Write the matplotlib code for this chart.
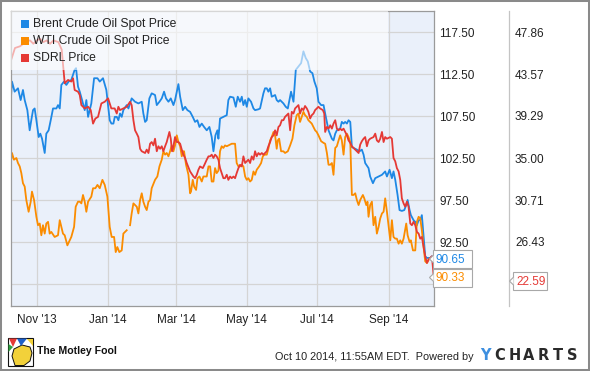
import numpy as np
import pandas as pd
import matplotlib
matplotlib.use("Agg")
import matplotlib.pyplot as plt
import matplotlib.dates as mdates
from matplotlib.patches import Rectangle, Polygon
from matplotlib.transforms import IdentityTransform
from matplotlib.ticker import FormatStrFormatter

plt.rcParams["font.family"] = ["Liberation Sans", "DejaVu Sans"]

# ---- data (days counted from 2013-10-09) ----
START = pd.Timestamp("2013-10-09")

brent_days = [0, 1.1, 3.4, 6.3, 8.6, 10.6, 12.1, 14.4, 16.4, 17.8,
              19.3, 20.7, 22.2, 24.2, 25.6, 27.1, 29.4, 30.8, 32.8, 34.6,
              36.6, 39.5, 40.9, 42.4, 43.8, 46.1, 48.1, 50.1, 52.4, 55.3,
              56.5, 58.2, 59.7, 61.7, 64.0, 65.4, 66.9, 68.3, 69.7, 72.1,
              75.0, 77.0, 79.8, 82.7, 85.6, 87.1, 88.8, 90.0, 91.7, 93.1,
              94.5, 96.0, 97.4, 100.3, 101.8, 104.6, 107.5, 110.4, 113.3, 114.7,
              116.2, 117.6, 119.9, 121.9, 124.8, 126.3, 128.6, 130.6, 132.6, 134.3,
              136.4, 138.4, 140.7, 142.1, 143.6, 145.0, 146.5, 148.8, 150.8, 152.8,
              155.1, 157.4, 159.4, 161.4, 163.2, 165.2, 167.2, 169.5, 171.8, 173.8,
              175.3, 177.0, 178.7, 179.6, 181.0, 183.9, 186.8, 188.2, 189.7, 192.6,
              194.6, 196.3, 198.3, 199.8, 201.2, 202.7, 204.1, 205.5, 207.8, 209.9,
              211.3, 214.2, 215.6, 218.5, 219.9, 221.4, 222.8, 224.3, 225.7, 228.6,
              230.0, 231.5, 232.9, 234.4, 235.8, 237.8, 239.6, 240.7, 242.4, 244.5,
              246.5, 248.8, 251.1, 253.1, 255.1, 256.9, 258.9, 260.9, 262.6, 264.6,
              266.1, 268.4, 270.5, 271.9, 274.8, 277.7, 279.1, 280.6, 282.0, 284.9,
              286.3, 287.8, 289.2, 290.7, 292.1, 293.6, 295.0, 296.4, 299.3, 301.6,
              303.6, 305.1, 306.5, 309.4, 310.8, 313.2, 315.2, 318.1, 321.0, 323.8,
              325.3, 327.6, 329.6, 331.0, 332.5, 334.5, 336.2, 338.2, 340.3, 342.0,
              343.2, 344.9, 346.0, 348.3, 349.8, 351.2, 352.7, 354.1, 355.5, 357.0,
              358.4, 359.9, 362.8, 364.2, 365.0]
brent = [109.2, 111.6, 110.4, 110.8, 109.4, 110.6, 109.4, 108.2, 105.8, 107.0,
         108.2, 108.4, 107.0, 105.0, 105.4, 104.8, 103.1, 105.4, 105.8, 107.0,
         108.4, 108.4, 108.8, 108.4, 111.2, 111.6, 111.2, 111.6, 111.8, 113.0,
         113.2, 111.0, 110.4, 109.4, 108.2, 109.4, 107.4, 108.2, 109.0, 112.0,
         112.0, 111.6, 112.0, 110.6, 107.0, 106.6, 106.6, 107.4, 107.4, 107.0,
         107.8, 107.4, 108.2, 108.8, 108.4, 109.6, 109.2, 109.0, 109.2, 107.8,
         106.8, 107.0, 109.6, 110.2, 110.0, 108.8, 109.2, 109.6, 110.4, 109.6,
         109.2, 109.6, 108.8, 109.4, 110.4, 111.3, 109.8, 108.2, 108.6, 108.2,
         108.0, 107.4, 106.8, 107.0, 106.2, 106.6, 106.2, 105.8, 106.2, 105.0,
         103.3, 105.2, 105.8, 104.8, 107.2, 107.4, 107.6, 109.4, 109.8, 109.7,
         108.6, 109.8, 109.2, 109.8, 108.8, 109.4, 108.6, 109.6, 109.2, 108.4,
         108.2, 108.3, 108.4, 110.2, 110.8, 110.8, 110.4, 110.8, 109.8, 110.0,
         109.4, 109.2, 109.4, 109.2, 109.0, 108.6, 108.4, 109.2, 110.4, 109.2,
         113.0, 113.4, 113.8, 115.2, 114.4, 114.0, 112.8, 112.6, 111.6, 110.8,
         109.2, 108.8, 108.8, 107.8, 105.8, 104.8, 104.6, 105.4, 105.8, 106.0,
         106.8, 106.6, 106.8, 106.6, 107.0, 106.8, 103.8, 103.7, 103.5, 103.3,
         103.5, 102.9, 101.9, 101.3, 100.3, 99.5, 100.1, 100.3, 100.5, 100.9,
         100.3, 101.1, 100.1, 100.9, 99.9, 98.1, 96.3, 96.2, 96.3, 96.9,
         97.5, 96.3, 95.7, 95.1, 94.9, 94.5, 95.1, 95.1, 95.7, 93.1,
         90.8, 90.6, 90.6, 90.8, 90.65]

wti_days = [0, 1.1, 2.8, 4.9, 6.3, 7.8, 9.2, 10.6, 12.1, 13.5,
            15.5, 17.3, 18.4, 20.2, 22.2, 23.6, 25.1, 26.5, 27.9, 29.4,
            30.8, 32.3, 33.7, 35.1, 38.0, 40.9, 42.4, 43.8, 45.2, 46.7,
            49.0, 50.4, 52.4, 54.8, 56.2, 58.2, 59.7, 61.1, 62.5, 64.0,
            65.4, 66.9, 69.7, 71.2, 73.2, 75.0, 77.0, 79.3, 81.3, 83.6,
            85.6, 87.3, 89.4, 90.8, 92.2, 93.9, 96.0, 97.4, 98.9, 100.3,
            101.8, 103.2, 104.6, 106.1, 109.0, 110.4, 111.9, 113.3, 114.7, 116.2,
            117.6, 119.1, 120.5, 121.9, 124.8, 126.8, 128.6, 130.6, 132.0, 133.5,
            134.9, 136.4, 137.8, 139.2, 140.7, 142.1, 143.6, 145.0, 146.5, 147.9,
            148.8, 149.9, 151.6, 153.7, 155.1, 155.9, 157.4, 158.6, 160.3, 161.5,
            163.2, 165.2, 166.6, 169.5, 171.0, 172.4, 173.8, 175.3, 176.7, 178.1,
            179.6, 181.0, 182.4, 183.9, 185.3, 186.8, 188.2, 191.1, 194.0, 195.4,
            196.9, 198.3, 199.8, 201.2, 202.7, 204.1, 205.5, 207.0, 208.4, 209.9,
            211.3, 212.7, 214.8, 216.5, 218.0, 219.4, 221.4, 222.8, 224.3, 225.7,
            227.2, 228.6, 230.0, 230.9, 232.1, 233.8, 235.8, 237.2, 239.6, 241.6,
            243.6, 245.3, 247.3, 248.8, 250.2, 251.7, 253.1, 254.5, 256.0, 257.4,
            260.3, 261.8, 263.2, 264.6, 266.1, 268.4, 270.5, 271.9, 273.4, 274.8,
            276.3, 277.7, 279.1, 280.6, 282.0, 283.5, 284.9, 286.3, 287.8, 289.2,
            290.7, 292.1, 293.6, 295.0, 296.4, 297.9, 299.3, 300.8, 302.2, 304.5,
            305.7, 307.4, 308.5, 309.4, 310.8, 312.3, 313.7, 315.2, 316.6, 318.1,
            319.5, 321.0, 322.4, 323.8, 325.3, 326.7, 328.2, 329.6, 331.0, 332.5,
            333.9, 335.4, 336.8, 338.2, 339.7, 342.0, 343.2, 344.9, 346.0, 347.8,
            349.8, 351.2, 352.7, 354.1, 355.5, 357.0, 358.4, 359.9, 361.3, 362.8,
            364.2, 365.0]
wti = [101.9, 103.1, 102.3, 102.5, 101.9, 101.5, 100.7, 99.5, 99.1, 97.5,
       96.1, 97.3, 98.5, 97.5, 95.5, 94.5, 94.7, 93.3, 94.5, 93.5,
       94.7, 94.9, 93.5, 93.7, 93.1, 93.3, 95.1, 94.3, 93.5, 93.3,
       92.1, 92.5, 93.1, 94.3, 96.7, 97.3, 97.3, 97.1, 98.1, 97.3,
       96.1, 97.3, 97.9, 98.9, 98.9, 99.3, 98.9, 99.9, 99.3, 97.9,
       94.3, 93.1, 93.1, 91.3, 91.9, 91.3, 91.5, 93.5, 93.7, 93.9,
       np.nan, 94.5, 95.9, 97.1, 96.7, 95.9, 97.5, 98.3, 97.3, 96.7,
       96.3, 97.3, 97.5, 98.9, 99.9, 100.3, 101.5, 102.3, 103.3, 102.9,
       103.1, 102.7, 103.3, 104.0, 103.3, 104.0, 105.2, 104.4, 103.9, 102.7,
       103.3, 103.3, 101.7, 100.5, 98.3, 98.5, 99.9, 99.1, 98.7, 100.1,
       100.3, 99.7, 100.3, 100.3, 101.5, 101.5, 99.7, 99.7, 101.3, 100.7,
       101.0, 103.3, 103.9, 103.7, 104.0, 103.9, 104.0, 104.2, 104.2, 101.9,
       101.5, 101.5, 101.7, 101.5, 100.3, 99.9, 100.1, 99.7, 99.9, 100.9,
       100.5, 101.1, 101.5, 101.9, 102.7, 102.9, 102.9, 103.6, 104.6, 105.0,
       105.6, 105.2, 103.6, 104.6, 104.8, 103.3, 103.3, 103.1, 103.3, 104.0,
       104.8, 106.4, 107.6, 107.8, 106.8, 107.4, 108.0, 107.6, 107.4, 107.0,
       106.6, 106.2, 105.8, 105.6, 105.2, 104.5, 104.3, 104.2, 103.1, 101.7,
       101.7, 101.9, 100.5, 103.7, 103.9, 104.6, 105.2, 104.6, 102.9, 105.0,
       105.4, 105.0, 104.4, 98.1, 98.1, 98.3, 97.5, 96.9, 97.5, 98.1,
       97.7, 96.9, 97.3, 95.5, 96.9, 97.3, 94.5, 95.5, 93.5, 94.3,
       95.3, 95.9, 96.1, 97.7, 96.1, 94.5, 92.7, 95.1, 93.1, 92.9,
       92.9, 92.3, 92.7, 92.3, 92.9, 94.7, 93.3, 92.5, 92.7, 91.5,
       91.5, 94.9, 95.5, 95.3, 93.9, 91.9, 90.2, 90.0, 90.4, 90.6,
       90.4, 90.33]

sdrl_days = [0, 3.7, 8.0, 13.8, 16.7, 19.6, 22.5, 25.3, 28.2, 31.1,
             34.0, 36.9, 41.2, 44.1, 45.5, 46.7, 49.6, 52.4, 53.9, 55.3,
             58.2, 59.7, 61.1, 64.0, 66.9, 69.2, 71.2, 73.2, 75.5, 78.4,
             81.3, 84.2, 87.0, 89.9, 91.7, 93.1, 94.5, 97.4, 100.3, 103.2,
             104.6, 106.1, 107.5, 109.0, 110.4, 111.9, 113.3, 116.2, 117.6, 119.1,
             120.5, 121.9, 123.4, 124.8, 126.3, 127.7, 129.2, 130.6, 132.0, 133.5,
             134.9, 137.2, 138.4, 139.5, 140.7, 142.1, 143.6, 145.0, 146.5, 147.9,
             149.3, 150.8, 152.2, 155.1, 158.0, 159.4, 160.9, 162.3, 163.7, 166.1,
             167.5, 169.5, 171.0, 172.4, 173.8, 175.3, 176.7, 178.1, 179.6, 181.0,
             182.4, 183.9, 185.3, 186.8, 188.2, 189.7, 191.1, 192.6, 194.0, 195.4,
             196.9, 198.3, 199.8, 201.2, 202.7, 204.1, 205.5, 207.0, 208.4, 209.9,
             211.3, 212.7, 214.2, 215.6, 217.1, 218.5, 219.9, 221.4, 222.8, 224.3,
             225.7, 227.2, 228.6, 230.0, 231.5, 232.9, 234.4, 235.8, 237.2, 238.7,
             240.1, 241.6, 243.0, 244.5, 245.9, 247.3, 248.8, 250.2, 251.7, 253.1,
             254.5, 256.0, 257.4, 258.9, 260.3, 261.8, 263.2, 264.6, 266.1, 267.5,
             269.9, 271.1, 271.9, 273.4, 274.8, 276.3, 277.7, 279.1, 280.6, 282.0,
             283.5, 284.9, 286.3, 287.8, 289.2, 290.7, 292.1, 293.6, 295.0, 296.4,
             297.9, 299.3, 300.8, 302.2, 303.6, 305.1, 306.5, 308.0, 309.4, 310.8,
             313.7, 315.2, 316.6, 318.1, 319.5, 321.0, 322.4, 323.8, 325.3, 328.2,
             329.6, 331.0, 332.5, 333.9, 335.4, 336.8, 338.2, 339.7, 341.1, 342.6,
             344.0, 345.5, 346.9, 348.3, 349.8, 351.2, 352.7, 354.1, 355.5, 357.0,
             358.4, 359.9, 361.3, 362.8, 364.2, 366.0]
sdrl = [44.86, 46.23, 46.40, 46.91, 47.00, 46.66, 47.00, 47.17, 46.83, 47.00,
        46.66, 47.00, 46.83, 46.06, 44.17, 42.63, 42.97, 42.80, 43.14, 41.94,
        41.77, 41.43, 40.40, 40.06, 40.23, 39.89, 38.51, 39.03, 39.20, 40.57,
        40.74, 41.09, 40.06, 40.06, 39.54, 40.23, 39.89, 40.06, 40.23, 40.74,
        40.40, 38.86, 37.83, 37.49, 37.14, 35.94, 35.69, 35.51, 35.86, 35.51,
        36.46, 36.63, 36.29, 36.97, 35.69, 36.20, 35.94, 36.20, 35.69, 36.20,
        36.63, 37.66, 36.97, 35.69, 36.20, 37.14, 36.63, 36.63, 36.46, 35.86,
        35.34, 35.00, 34.49, 33.63, 33.11, 32.94, 33.29, 33.80, 34.14, 33.97,
        34.31, 34.83, 35.17, 35.17, 35.34, 35.00, 35.34, 35.17, 34.83, 33.97,
        33.46, 32.94, 32.94, 33.29, 32.77, 33.11, 32.94, 33.11, 32.94, 33.46,
        33.97, 34.31, 34.14, 35.17, 34.49, 34.66, 34.83, 34.49, 35.17, 34.83,
        35.69, 35.17, 35.51, 35.34, 35.51, 35.34, 35.51, 35.69, 36.20, 36.63,
        37.14, 37.31, 37.83, 37.31, 38.17, 38.34, 38.86, 38.86, 39.20, 39.37,
        39.54, 37.83, 39.71, 39.54, 40.06, 40.23, 40.40, 39.54, 40.06, 39.89,
        40.31, 40.06, 39.71, 39.03, 39.37, 39.54, 39.89, 40.06, 40.23, 40.06,
        39.89, 39.54, 37.66, 38.17, 38.00, 38.34, 38.00, 38.51, 38.86, 38.00,
        37.83, 38.00, 37.83, 38.00, 37.66, 37.31, 36.80, 36.54, 36.20, 36.03,
        35.86, 35.69, 35.51, 36.37, 36.71, 36.97, 37.14, 36.20, 36.80, 36.97,
        37.14, 37.49, 36.80, 36.63, 36.97, 37.66, 36.63, 37.14, 36.97, 37.14,
        36.97, 35.00, 34.66, 33.97, 33.63, 32.77, 30.89, 30.37, 30.03, 30.54,
        30.03, 28.31, 28.14, 28.49, 28.14, 27.46, 27.29, 26.77, 26.94, 25.91,
        24.97, 24.29, 24.63, 24.80, 24.97, 22.59]

series_names = ["Brent Crude Oil Spot Price", "WTI Crude Oil Spot Price", "SDRL Price"]
left_ticks = [87.5, 92.5, 97.5, 102.5, 107.5, 112.5, 117.5]
right_ticks = [26.43, 30.71, 35.00, 39.29, 43.57, 47.86]

BLUE, ORANGE, RED = "#1E88E5", "#FB8C00", "#E53935"
W, H = 590, 371
PIX = IdentityTransform()


def to_sdrl(v):
    return np.asarray(v) * 6 / 7 - 370 / 7


def to_left(s):
    return (np.asarray(s) + 370 / 7) * 7 / 6


def dates_of(days):
    return START + pd.to_timedelta(days, unit="D")


fig = plt.figure(figsize=(W / 100, H / 100), dpi=100)
fig.patch.set_facecolor("white")
ax = fig.add_axes([10.7 / W, (H - 306) / H, 423.3 / W, 295.3 / H])
ax.set_facecolor("#EAF0FA")

ax.plot(dates_of(brent_days), brent, color=BLUE, lw=1.3, zorder=2)
ax.plot(dates_of(wti_days), wti, color=ORANGE, lw=1.3, zorder=2)
ax.plot(dates_of(sdrl_days), to_left(sdrl), color=RED, lw=1.3, zorder=2)

ax.set_xlim(START, START + pd.Timedelta(days=366))
ax.set_ylim(84.88, 120.04)
ax.xaxis.set_major_locator(mdates.MonthLocator(bymonth=[1, 3, 5, 7, 9, 11]))
ax.xaxis.set_major_formatter(mdates.DateFormatter("%b '%y"))
ax.set_yticks(left_ticks)
ax.yaxis.set_major_formatter(FormatStrFormatter("%.2f"))
ax.yaxis.tick_right()
ax.tick_params(axis="y", length=0, pad=3.8, labelsize=8.5, labelcolor="#222222")
ax.tick_params(axis="x", length=0, pad=6, labelsize=8.5, labelcolor="#222222")
ax.grid(True, color="#d4d4d4", lw=0.9)
ax.set_axisbelow(True)
for sp in ax.spines.values():
    sp.set_color("#9a9a9a")
    sp.set_linewidth(0.9)

# light band behind the legend
ax.add_patch(Rectangle((0, 0.799), 0.891, 0.201, transform=ax.transAxes,
                       facecolor="white", alpha=0.6, lw=0, zorder=3))

# SDRL scale on the far right
sec = ax.secondary_yaxis(498.3 / 423.3, functions=(to_sdrl, to_left))
sec.set_yticks(right_ticks)
sec.yaxis.set_major_formatter(FormatStrFormatter("%.2f"))
sec.tick_params(axis="y", length=0, pad=4.3, labelsize=8.5, labelcolor="#222222")
for sp in sec.spines.values():
    sp.set_color("#c4c4c4")
    sp.set_linewidth(0.9)

# legend
for i, (name, col) in enumerate(zip(series_names, [BLUE, ORANGE, RED])):
    yc = H - (24 + 17 * i)
    fig.add_artist(Rectangle((20.7, yc - 4), 8, 8, transform=PIX, facecolor=col, lw=0))
    fig.text(33, yc, name, transform=PIX, fontsize=8.7, color="#222222", va="center", ha="left")


# last-value tags
def tag(x_left, yc, text, color, width):
    h = 18
    fig.add_artist(Rectangle((x_left, yc - h / 2), width, h, transform=PIX,
                             facecolor="white", edgecolor="#a8a8a8", lw=0.8))
    fig.add_artist(Polygon([(x_left + 0.6, yc + 4), (x_left - 3.5, yc), (x_left + 0.6, yc - 4)],
                           closed=False, transform=PIX, facecolor="white",
                           edgecolor="#a8a8a8", lw=0.8))
    fig.text(x_left + 3, yc - 0.5, text, transform=PIX, fontsize=8.5, color=color,
             va="center", ha="left")


yb = ax.transData.transform((0, brent[-1]))[1] - 1.5
yo = ax.transData.transform((0, wti[-1]))[1]
if abs(yb - yo) < 18.5:
    yo = yb - 18.5
ys = ax.transData.transform((0, to_left(sdrl[-1])))[1] - 1.5
tag(433, yb, f"{brent[-1]:.2f}", BLUE, 39)
tag(433, yo, f"{wti[-1]:.2f}", ORANGE, 39)
tag(513, ys, f"{sdrl[-1]:.2f}", RED, 34)


# footer: Motley Fool mark
def P(x, y):
    return (x, H - y)


fig.add_artist(Rectangle(P(8, 366), 25, 28, transform=PIX, facecolor="white",
                         edgecolor="#111111", lw=0.8))
fig.add_artist(Polygon([P(14, 349), P(22, 345), P(30, 347), P(32, 353), P(30, 361),
                        P(24, 365.5), P(15, 365.5), P(12, 356)], transform=PIX,
                       facecolor="#F2D13A", edgecolor="#111111", lw=0.7))
fig.add_artist(Polygon([P(9, 338.5), P(17, 338.5), P(13, 347)], transform=PIX,
                       facecolor="#E53935", lw=0))
fig.add_artist(Polygon([P(17, 338.5), P(27, 338.5), P(21, 346)], transform=PIX,
                       facecolor="#1E5FC8", lw=0))
fig.add_artist(Polygon([P(8.5, 344), P(13, 347), P(8.5, 352)], transform=PIX,
                       facecolor="#2E9E3E", lw=0))
fig.add_artist(Polygon([P(27, 338.5), P(32.5, 338.5), P(32.5, 346)], transform=PIX,
                       facecolor="#F2D13A", lw=0))
fig.text(37, H - 351, "The Motley Fool", transform=PIX, fontsize=7.6, fontweight="bold",
         color="#111111", va="center", ha="left")

fig.text(474, H - 357, "Oct 10 2014, 11:55AM EDT.  Powered by", transform=PIX,
         fontsize=7.8, color="#222222", va="center", ha="right")
for i, ch in enumerate("YCHARTS"):
    fig.text(485.5 + 14.4 * i, H - 356, ch, transform=PIX, fontsize=10.5, fontweight="bold",
             family="DejaVu Sans", color="#3D8FE0" if ch == "Y" else "#2a2a2a",
             va="center", ha="center")

# outer frame
fig.add_artist(Rectangle((0, 0), 1, 1, transform=fig.transFigure, fill=False,
                         edgecolor="#8a8a8a", lw=2.9))

fig.savefig("out.png", dpi=100)
